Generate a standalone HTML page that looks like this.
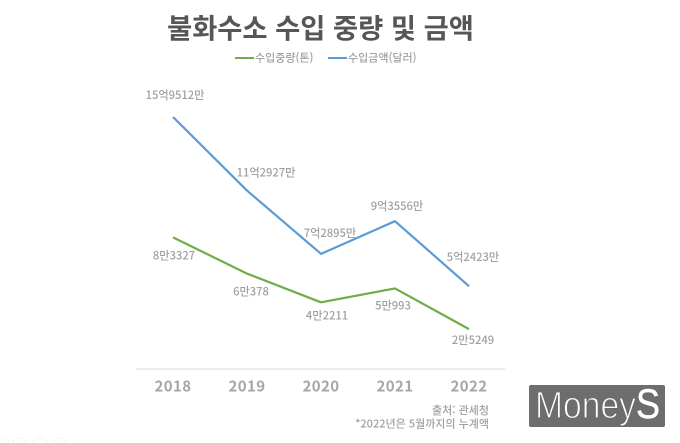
<!DOCTYPE html>
<html lang="ko">
<head>
<meta charset="utf-8">
<title>불화수소 수입 중량 및 금액</title>
<style>
html,body{margin:0;padding:0;background:#fff;width:680px;height:443px;overflow:hidden}
svg{display:block}
text{font-family:"Noto Sans CJK KR","Liberation Sans",sans-serif}
</style>
</head>
<body>
<svg id="chart" width="680" height="443" viewBox="0 0 680 443" xmlns="http://www.w3.org/2000/svg">
  <rect width="680" height="443" fill="#fff"/>
  <text x="320.5" y="38" text-anchor="middle" font-size="27.3" font-weight="700" fill="#565656">불화수소 수입 중량 및 금액</text>
  <g>
    <line x1="235" x2="254" y1="58" y2="58" stroke="#70ad47" stroke-width="2"/>
    <text x="255" y="61.5" font-size="11" fill="#a0a0a0" font-weight="500">수입중량(톤)</text>
    <line x1="328" x2="347" y1="58" y2="58" stroke="#5b9bd5" stroke-width="2"/>
    <text x="348" y="61.5" font-size="11" fill="#a0a0a0" font-weight="500">수입금액(달러)</text>
  </g>
  <line x1="136" x2="505" y1="369" y2="369" stroke="#ececec" stroke-width="2"/>
  <g id="marks"></g>
  <g font-size="11" fill="#a0a0a0" font-weight="500" text-anchor="end">
    <text x="489" y="414">출처: 관세청</text>
    <text x="489" y="427.5">*2022년은 5월까지의 누계액</text>
  </g>
  <g>
    <rect x="529" y="385" width="136" height="42" rx="2" fill="#6d6d6d"/>
    <text x="535" y="418" font-size="38" fill="#fff" stroke="#6d6d6d" stroke-width="1.2" textLength="101" lengthAdjust="spacingAndGlyphs" style="font-family:'Liberation Sans',sans-serif">Money</text>
    <text x="636" y="418" font-size="42" fill="#fff" stroke="#fff" stroke-width="0.5" textLength="24" lengthAdjust="spacingAndGlyphs" style="font-family:'Liberation Sans',sans-serif">S</text>
  </g>
  <g fill="none" stroke="#f3f3f3" stroke-width="1">
    <circle cx="2" cy="446" r="8"/>
    <circle cx="20" cy="446" r="8"/>
    <circle cx="40" cy="446" r="8"/>
    <circle cx="60" cy="446" r="8"/>
  </g>
</svg>
<script>
const categories = ['2018', '2019', '2020', '2021', '2022'];
const weightTons = [83327, 60378, 42211, 50993, 25249];
const amountManDollars = [159512, 112927, 72895, 93556, 52423];
const weightLabels = ['8만3327', '6만378', '4만2211', '5만993', '2만5249'];
const amountLabels = ['15억9512만', '11억2927만', '7억2895만', '9억3556만', '5억2423만'];

function xScale(i) {
  return 173 + i * 74;
}
function yScale(v) {
  return 369 - v * 0.00158;
}

const NS = 'http://www.w3.org/2000/svg';
const marks = document.getElementById('marks');

function drawLine(values, color, name) {
  const line = document.createElementNS(NS, 'polyline');
  line.setAttribute('points', values.map(function (v, i) { return xScale(i) + ',' + yScale(v); }).join(' '));
  line.setAttribute('fill', 'none');
  line.setAttribute('stroke', color);
  line.setAttribute('stroke-width', '2.2');
  line.setAttribute('stroke-linejoin', 'round');
  
  
  marks.appendChild(line);
}

function drawLabels(values, labels, nudge, name) {
  values.forEach(function (v, i) {
    const t = document.createElementNS(NS, 'text');
    t.setAttribute('x', xScale(i) + nudge[i][0]);
    t.setAttribute('y', yScale(v) + nudge[i][1] + 4);
    t.setAttribute('text-anchor', 'middle');
    t.setAttribute('font-size', '11.2');
    t.setAttribute('font-weight', '500');
    t.setAttribute('fill', '#a0a0a0');
    
    
    t.textContent = labels[i];
    marks.appendChild(t);
  });
}

function drawTicks() {
  categories.forEach(function (c, i) {
    const t = document.createElementNS(NS, 'text');
    t.setAttribute('x', xScale(i));
    t.setAttribute('y', 391.5);
    t.setAttribute('text-anchor', 'middle');
    t.setAttribute('font-size', '15');
    t.setAttribute('font-weight', '700');
    t.setAttribute('letter-spacing', '0.4');
    t.setAttribute('fill', '#a6a6a6');
    
    
    t.textContent = c;
    marks.appendChild(t);
  });
}

drawLine(weightTons, '#70ad47', 'weight-line');
drawLine(amountManDollars, '#5b9bd5', 'amount-line');
drawLabels(amountManDollars, amountLabels, [[2, -22], [19, -18], [9, -21], [2, -15], [4, -29]], 'amount-value-label');
drawLabels(weightTons, weightLabels, [[1, 18], [4, 18], [6, 13], [-2, 17], [4, 11]], 'weight-value-label');
drawTicks();
</script>
</body>
</html>
